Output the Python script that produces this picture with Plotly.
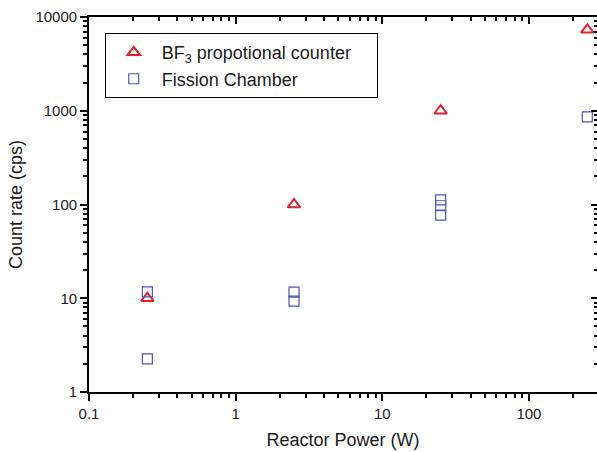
import plotly.graph_objects as go

# Data
bf3_power = [0.25, 2.5, 25, 250]
bf3_rate = [10, 100, 1000, 7300]

fc_power = [0.25, 0.25, 2.5, 2.5, 25, 25, 25, 250]
fc_rate = [11.7, 2.26, 11.6, 9.3, 112, 97, 77, 860]

x_tickvals = [0.1, 1, 10, 100]
x_ticktext = ["0.1", "1", "10", "100"]
y_tickvals = [1, 10, 100, 1000, 10000]
y_ticktext = ["1", "10", "100", "1000", "10000"]

# minor tick positions: 2..9 within each decade
x_minor = [m * d for d in (0.1, 1, 10, 100) for m in range(2, 10)]
y_minor = [m * d for d in (1, 10, 100, 1000) for m in range(2, 10)]

RED = "#e3202a"
BLUE = "#5252c2"
FONT = "Liberation Sans, Arial, sans-serif"
NB = "\u00a0"

fig = go.Figure()
fig.add_trace(go.Scatter(
    x=bf3_power, y=bf3_rate, mode="markers",
    name="BF<sub>3</sub> propotional counter" + NB * 4,
    marker=dict(symbol="triangle-up-open", size=11, color=RED,
                line=dict(color=RED, width=2)),
))
fig.add_trace(go.Scatter(
    x=fc_power, y=fc_rate, mode="markers",
    name="Fission Chamber",
    marker=dict(symbol="square-open", size=10, color=BLUE,
                line=dict(color=BLUE, width=1.2)),
))
# invisible host traces for the mirrored top / right tick axes
for xa, ya in (("x2", "y"), ("x", "y2")):
    fig.add_trace(go.Scatter(x=bf3_power, y=bf3_rate, xaxis=xa, yaxis=ya,
                             mode="markers", marker=dict(opacity=0),
                             showlegend=False, hoverinfo="skip"))

XR = [-1, 2.464]
YR = [0, 4]


def minor(direction, length, vals):
    return dict(tickmode="array", tickvals=vals, ticks=direction,
                ticklen=length, tickwidth=1.8, tickcolor="black",
                showgrid=False)


fig.update_layout(
    width=597, height=452,
    margin=dict(l=89, r=0, t=17, b=60),
    paper_bgcolor="white", plot_bgcolor="white",
    font=dict(family=FONT, size=15, color="#1a1a1a"),
    showlegend=True,
    legend=dict(
        x=0.031, y=0.957, xanchor="left", yanchor="top",
        bordercolor="black", borderwidth=1, bgcolor="white",
        font=dict(family=FONT, size=18, color="#1a1a1a"),
        tracegroupgap=0, itemwidth=46,
    ),
    xaxis=dict(
        type="log", range=XR, showgrid=False, zeroline=False,
        showline=True, linecolor="black", linewidth=1.8,
        ticks="outside", ticklen=7, tickwidth=2, tickcolor="black",
        tickmode="array", tickvals=x_tickvals, ticktext=x_ticktext,
        minor=minor("outside", 4, x_minor),
        title=dict(text="Reactor Power (W)", font=dict(size=18), standoff=12),
    ),
    yaxis=dict(
        type="log", range=YR, showgrid=False, zeroline=False,
        showline=True, linecolor="black", linewidth=1.8,
        ticks="outside", ticklen=7, tickwidth=2, tickcolor="black",
        tickmode="array", tickvals=y_tickvals, ticktext=y_ticktext,
        minor=minor("outside", 4, y_minor),
        title=dict(text="Count rate (cps)", font=dict(size=18), standoff=8),
    ),
    xaxis2=dict(
        type="log", range=XR, overlaying="x", side="top", anchor="y",
        showticklabels=False, showgrid=False, zeroline=False,
        showline=True, linecolor="black", linewidth=1.8,
        ticks="inside", ticklen=7, tickwidth=2, tickcolor="black",
        tickmode="array", tickvals=x_tickvals,
        minor=minor("inside", 4, x_minor),
    ),
    yaxis2=dict(
        type="log", range=YR, overlaying="y", side="right", anchor="x",
        showticklabels=False, showgrid=False, zeroline=False,
        showline=False,
        ticks="inside", ticklen=6, tickwidth=2, tickcolor="black",
        tickmode="array", tickvals=y_tickvals,
        minor=minor("inside", 3, y_minor),
    ),
)

fig.write_html("out.html")
